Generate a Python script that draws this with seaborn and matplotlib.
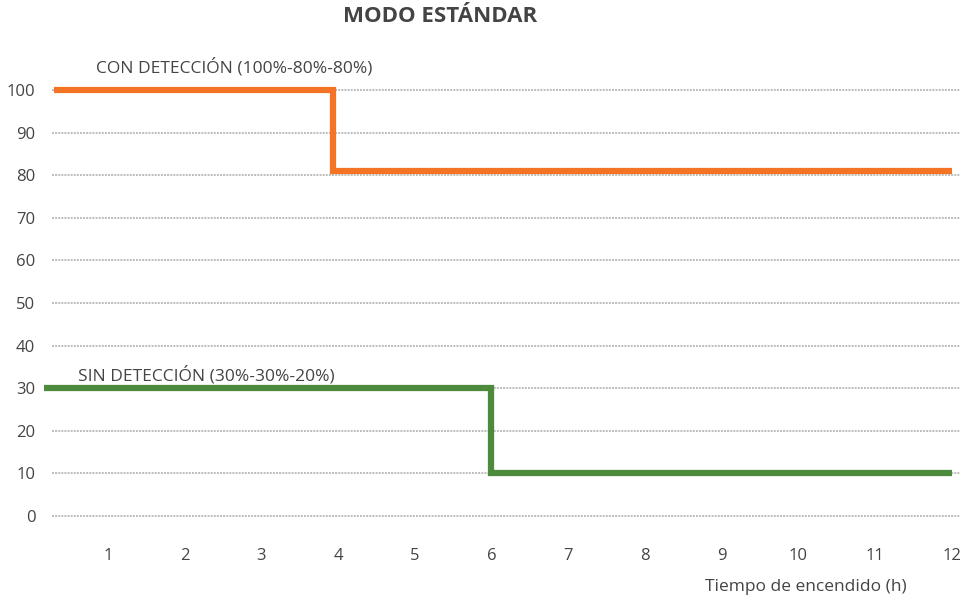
import numpy as np
import pandas as pd
import matplotlib
matplotlib.use("Agg")
import matplotlib.pyplot as plt
import seaborn as sns

# Datos
horas_con = [0.3, 3.93, 12]
nivel_con = [100, 81, 81]
horas_sin = [0.17, 6, 12]
nivel_sin = [30, 10, 10]
etiqueta_con = "CON DETECCIÓN (100%-80%-80%)"
etiqueta_sin = "SIN DETECCIÓN (30%-30%-20%)"
ticks_x = list(range(1, 13))
ticks_y = list(range(0, 101, 10))

NARANJA = "#F47325"
VERDE = "#4B8B3B"
GRIS_TXT = "#444444"

df = pd.concat([
    pd.DataFrame({"hora": horas_con, "nivel": nivel_con, "serie": "con"}),
    pd.DataFrame({"hora": horas_sin, "nivel": nivel_sin, "serie": "sin"}),
])

sns.set_style("white")
plt.rcParams["font.family"] = ["Open Sans", "DejaVu Sans"]

fig = plt.figure(figsize=(9.6, 6), dpi=100)
# ejes en pixeles: izquierda 52, derecha 960, y=0 en 516, y=100 en 90
ax = fig.add_axes([52 / 960, 84 / 600, 908 / 960, 426 / 600])

ax.set_xlim(0.27, 12.11)
ax.set_ylim(0, 100)

# cuadrícula punteada
for v in ticks_y:
    ax.axhline(v, color="#bdbdbd", lw=1.4, ls=(0, (1, 0.6)), zorder=1, clip_on=False)

sns.lineplot(data=df, x="hora", y="nivel", hue="serie",
             palette={"con": NARANJA, "sin": VERDE}, drawstyle="steps-post",
             lw=4.5, legend=False, ax=ax, sort=False, estimator=None,
             clip_on=False, zorder=3, solid_joinstyle="miter", solid_capstyle="butt")

ax.set_xticks(ticks_x)
ax.set_yticks(ticks_y)
ax.tick_params(axis="x", length=0, pad=23, labelsize=12, labelcolor=GRIS_TXT)
ax.tick_params(axis="y", length=0, pad=12, labelsize=12, labelcolor=GRIS_TXT)
ax.set_xlabel("")
ax.set_ylabel("")
for s in ax.spines.values():
    s.set_visible(False)

ax.text(0.85, 105.4, etiqueta_con, fontsize=12.5, color=GRIS_TXT, va="center", ha="left")
ax.text(0.61, 33.1, etiqueta_sin, fontsize=12.5, color=GRIS_TXT, va="center", ha="left")

fig.text(440 / 960, 1 - 17 / 600, "MODO ESTÁNDAR", fontsize=16, fontweight="bold",
         color=GRIS_TXT, ha="center", va="center")
fig.text(806 / 960, 1 - 587 / 600, "Tiempo de encendido (h)", fontsize=12.5,
         color=GRIS_TXT, ha="center", va="center")

fig.savefig("out.png", dpi=100)
